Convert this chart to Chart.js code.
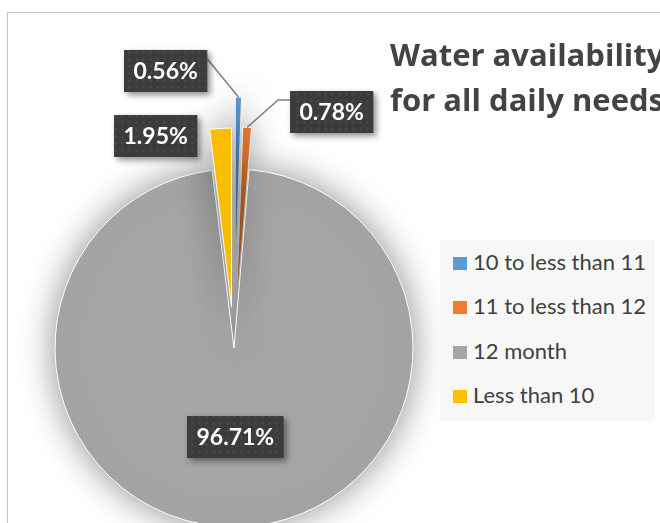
<!DOCTYPE html>
<html>
<head>
<meta charset="utf-8">
<script src="https://cdn.jsdelivr.net/npm/chart.js@4.4.1/dist/chart.umd.min.js"></script>
<style>
  html, body { margin: 0; padding: 0; background: #fff; overflow: hidden; }
  body { width: 660px; height: 523px; position: relative; font-family: Lato, "Open Sans", sans-serif; }
  #frame { position: absolute; left: 7px; top: 12px; width: 720px; height: 620px; border: 1px solid #c4c4c4; box-sizing: border-box; }
  #pie { position: absolute; left: 0; top: 0; }
  #title { position: absolute; left: 390px; top: 32px; font-family: "Open Sans", sans-serif; font-weight: bold; font-size: 31px; line-height: 45px; color: #434343; white-space: nowrap; }
  #legend { position: absolute; left: 440px; top: 240px; width: 215px; height: 181px; background: #f7f7f7; }
  .item { position: absolute; left: 13px; font-size: 22px; line-height: 26px; color: #404040; white-space: nowrap; }
  .swatch { position: absolute; left: 0; top: 8px; width: 14px; height: 13px; }
  .item span.txt { position: absolute; left: 20px; top: 0; }
</style>
</head>
<body>
<div id="frame"></div>
<canvas id="pie" width="660" height="523"></canvas>
<div id="title"></div>
<div id="legend"></div>
<script>
// ==============================
// Water availability pie
// ==============================

// Data
const categories = ["10 to less than 11", "11 to less than 12", "12 month", "Less than 10"];
const shares = [0.56, 0.78, 96.71, 1.95];
const titleLines = ["Water availability", "for all daily needs"];

// Styles
const sliceColors = ["#5B9BD5", "#ED7D31", "#A5A5A5", "#FFC000"];
const explode = [72, 42, 0, 41];          // px each slice is pulled out
const labelAnchor = [1, 1, 0.5, 1];       // fraction of radius for label anchor
const labelShift = [[-73, -26], [84, -15], [0, 0], [-65, 8]];
const leaders = [{ side: "right", elbow: 0 }, { side: "left", elbow: 12 }, null, null];

// -----------------------------
// Title + legend (HTML)
// -----------------------------
document.getElementById("title").innerHTML = titleLines.join("<br>");

const legendBox = document.getElementById("legend");
categories.forEach((name, i) => {
    const item = document.createElement("div");
    item.className = "item";
    item.style.top = (8.8 + i * 44.5) + "px";
    item.innerHTML = '<span class="swatch" style="background:' + sliceColors[i] + '"></span>' +
        '<span class="txt">' + name + '</span>';
    legendBox.appendChild(item);
});

// -----------------------------
// Dotted texture for labels
// -----------------------------
const tile = document.createElement("canvas");
tile.width = 7;
tile.height = 7;
const tctx = tile.getContext("2d");
tctx.fillStyle = "#3c3c3c";
tctx.fillRect(0, 0, 7, 7);
tctx.fillStyle = "#4b4b4b";
tctx.beginPath();
tctx.arc(3.5, 3.5, 1.3, 0, Math.PI * 2);
tctx.fill();

// -----------------------------
// Plugins
// -----------------------------
const explodePlugin = {
    id: "explode",
    beforeDatasetDraw(chart, args) {
        const { left, right, top, bottom } = chart.chartArea;
        const cx = (left + right) / 2;
        const cy = (top + bottom) / 2;
        args.meta.data.forEach((arc, i) => {
            const mid = (arc.startAngle + arc.endAngle) / 2;
            arc.x = cx + Math.cos(mid) * explode[i];
            arc.y = cy + Math.sin(mid) * explode[i];
        });
        const ctx = chart.ctx;
        ctx.save();
        ctx.shadowColor = "rgba(0,0,0,0.45)";
        ctx.shadowBlur = 36;
    },
    afterDatasetDraw(chart) {
        chart.ctx.restore();
    }
};

const labelPlugin = {
    id: "boxLabels",
    afterDatasetsDraw(chart) {
        const ctx = chart.ctx;
        const arcs = chart.getDatasetMeta(0).data;
        const pattern = ctx.createPattern(tile, "repeat");
        ctx.save();
        ctx.font = "bold 23px Lato";
        arcs.forEach((arc, i) => {
            const mid = (arc.startAngle + arc.endAngle) / 2;
            const r = arc.outerRadius * labelAnchor[i];
            const ax = arc.x + Math.cos(mid) * r;
            const ay = arc.y + Math.sin(mid) * r;
            const bx = ax + labelShift[i][0];
            const by = ay + labelShift[i][1];
            const text = shares[i].toFixed(2) + "%";
            const w = ctx.measureText(text).width + 19;
            const h = 42;
            const x0 = Math.round(bx - w / 2);
            const y0 = Math.round(by - h / 2);

            // leader line
            const ld = leaders[i];
            if (ld) {
                const ex = ld.side === "right" ? x0 + w : x0;
                const ey = y0 + 9;
                const kx = ld.side === "right" ? ex + ld.elbow : ex - ld.elbow;
                ctx.strokeStyle = "#7f7f7f";
                ctx.lineWidth = 1.5;
                ctx.beginPath();
                ctx.moveTo(ax, ay);
                ctx.lineTo(kx, ey);
                ctx.lineTo(ex, ey);
                ctx.stroke();
            }

            // box
            ctx.save();
            ctx.shadowColor = "rgba(0,0,0,0.45)";
            ctx.shadowBlur = 6;
            ctx.shadowOffsetX = 3;
            ctx.shadowOffsetY = 3;
            ctx.fillStyle = pattern;
            ctx.fillRect(x0, y0, w, h);
            ctx.restore();

            ctx.fillStyle = "#ffffff";
            ctx.textAlign = "center";
            ctx.textBaseline = "middle";
            ctx.fillText(text, x0 + w / 2, y0 + h / 2 + 1);
        });
        ctx.restore();
    }
};

// -----------------------------
// Pie Chart
// -----------------------------
const pieChart = new Chart(
    document.getElementById("pie"),
    {
        type: "pie",
        data: {
            labels: categories,
            datasets: [{
                data: shares,
                backgroundColor: sliceColors,
                borderColor: "#ffffff",
                borderWidth: 1,
                radius: 179,
                clip: false
            }]
        },
        options: {
            responsive: false,
            animation: false,
            events: [],
            layout: {
                padding: { left: 0, right: 192, top: 173, bottom: 0 }
            },
            plugins: {
                legend: { display: false },
                title: { display: false },
                tooltip: { enabled: false }
            }
        },
        plugins: [explodePlugin, labelPlugin]
    }
);
</script>
</body>
</html>
